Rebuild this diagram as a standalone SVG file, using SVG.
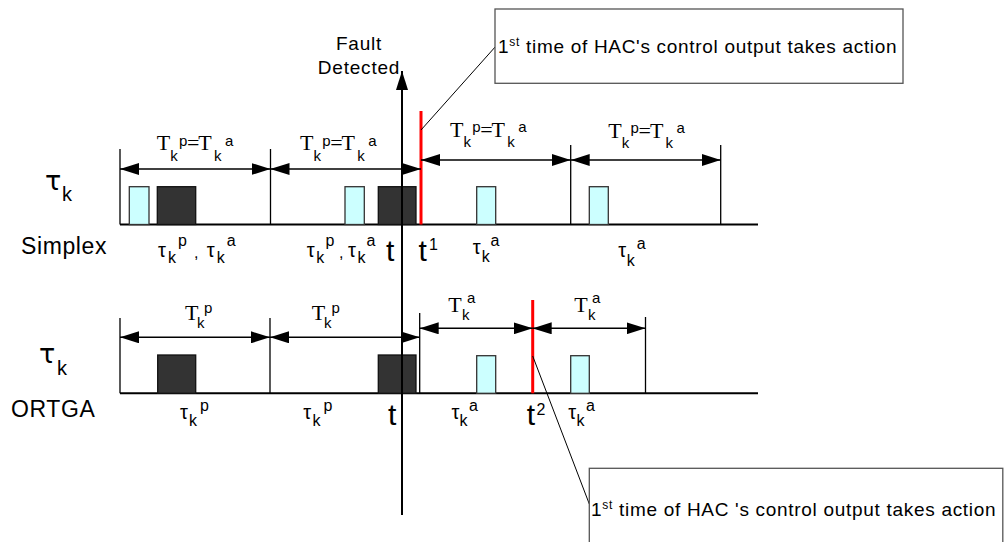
<svg xmlns="http://www.w3.org/2000/svg" width="1005" height="542" viewBox="0 0 1005 542">
<defs>
<style>
.bg{fill:#fff}
.base{stroke:#000;stroke-width:2;fill:none}
.tick{stroke:#000;stroke-width:1.3;fill:none}
.red{stroke:#ff0000;stroke-width:3;fill:none}
.arr{stroke:#000;stroke-width:1.5;fill:none;marker-start:url(#ah);marker-end:url(#ah)}
.axis{stroke:#000;stroke-width:2;fill:none;marker-end:url(#ah)}
.lead{stroke:#000;stroke-width:1;fill:none}
.cy{fill:#ccffff;stroke:#333;stroke-width:1.3}
.dk{fill:#333;stroke:#111;stroke-width:1.3}
.box{fill:#fff;stroke:#555;stroke-width:1.3}
.big{font-family:"Liberation Sans",Arial,sans-serif;font-size:23px;letter-spacing:0.6px;fill:#000}
.ft{font-family:"Liberation Sans",Arial,sans-serif;font-size:19px;letter-spacing:0.8px;fill:#000;text-anchor:middle}
.T{font-family:"Liberation Serif","Times New Roman",serif;font-size:22px;fill:#000}
.s14{font-family:"Liberation Sans",Arial,sans-serif;font-size:15px;fill:#000}
.s16{font-family:"Liberation Sans",Arial,sans-serif;font-size:16px;fill:#000}
.tau{font-family:"Liberation Sans",Arial,sans-serif;font-size:20px;fill:#000}
.btau{font-family:"DejaVu Sans",sans-serif;font-size:27px;fill:#000}
.bk{font-family:"Liberation Sans",Arial,sans-serif;font-size:20px;fill:#000}
.tt{font-family:"Liberation Sans",Arial,sans-serif;font-size:30px;fill:#000}
.co{font-family:"Liberation Sans",Arial,sans-serif;font-size:19px;letter-spacing:0.7px;fill:#000}
</style>
<marker id="ah" markerUnits="userSpaceOnUse" markerWidth="19" markerHeight="12" refX="19" refY="6" orient="auto-start-reverse" viewBox="0 0 19 12">
<path d="M0,0 L19,6 L0,12 z" fill="#000"/>
</marker>
</defs>
<rect class="bg" x="0" y="0" width="1005" height="542"/>

<g id="simplex-timeline">
<line class="base" x1="120" y1="224.5" x2="758" y2="224.5"/>
<line class="tick" x1="120" y1="149" x2="120" y2="224.5"/>
<line class="tick" x1="270.5" y1="149" x2="270.5" y2="224.5"/>
<line class="tick" x1="570.7" y1="145" x2="570.7" y2="224.5"/>
<line class="tick" x1="720.7" y1="145" x2="720.7" y2="224.5"/>
<rect class="cy" x="129.3" y="186.7" width="19.7" height="37.8"/>
<rect class="dk" x="157.3" y="186.7" width="38.4" height="37.8"/>
<rect class="cy" x="345" y="186.7" width="19.3" height="37.8"/>
<rect class="dk" x="378.3" y="186.7" width="37.7" height="37.8"/>
<rect class="cy" x="476.7" y="186.7" width="19" height="37.8"/>
<rect class="cy" x="589.3" y="186.7" width="19" height="37.8"/>
<line class="red" x1="421" y1="111" x2="421" y2="224.5"/>
</g>

<g id="ortga-timeline">
<line class="base" x1="120" y1="393.3" x2="758" y2="393.3"/>
<line class="tick" x1="120" y1="318" x2="120" y2="393.3"/>
<line class="tick" x1="270" y1="318" x2="270" y2="393.3"/>
<line class="tick" x1="419.7" y1="313" x2="419.7" y2="393.3"/>
<line class="tick" x1="645.5" y1="317" x2="645.5" y2="393.3"/>
<rect class="dk" x="157.7" y="355" width="38" height="38.3"/>
<rect class="dk" x="378.3" y="355" width="37.7" height="38.3"/>
<rect class="cy" x="476.7" y="355.7" width="19" height="37.6"/>
<rect class="cy" x="570.7" y="355.7" width="18.6" height="37.6"/>
<line class="red" x1="532.7" y1="300" x2="532.7" y2="393.3"/>
</g>

<g id="connectors">
<line class="axis" x1="402" y1="515" x2="402" y2="71"/>
<line class="arr" x1="120" y1="169" x2="270.5" y2="169"/>
<line class="arr" x1="270.5" y1="169" x2="421" y2="169"/>
<line class="arr" x1="421" y1="160" x2="570.7" y2="160"/>
<line class="arr" x1="570.7" y1="160" x2="720.7" y2="160"/>
<line class="arr" x1="120" y1="337.3" x2="270" y2="337.3"/>
<line class="arr" x1="270" y1="337.3" x2="419.7" y2="337.3"/>
<line class="arr" x1="419.7" y1="328.3" x2="532.7" y2="328.3"/>
<line class="arr" x1="532.7" y1="328.3" x2="645.5" y2="328.3"/>
<line class="lead" x1="421" y1="130" x2="496" y2="46"/>
<line class="lead" x1="532.7" y1="356" x2="589.3" y2="504"/>
</g>

<g id="fault-label">
<text class="ft" x="359" y="50">Fault</text>
<text class="ft" x="359" y="74">Detected</text>
</g>

<g id="row-labels">
<text class="btau" x="45" y="190">τ</text>
<text class="bk" x="62" y="201">k</text>
<text class="big" x="21" y="254">Simplex</text>
<text class="btau" x="39" y="363">τ</text>
<text class="bk" x="57" y="375">k</text>
<text class="big" x="11" y="417">ORTGA</text>
</g>

<g id="period-labels">
<g>
<text class="T" x="156.7" y="150">T</text><text class="s14" x="170.2" y="161">k</text><text class="s14" x="179" y="146">p</text><text class="T" x="187" y="150">=</text><text class="T" x="198.3" y="150">T</text><text class="s14" x="214" y="161">k</text><text class="s14" x="225" y="146">a</text>
</g>
<g>
<text class="T" x="300" y="150">T</text><text class="s14" x="313.5" y="161">k</text><text class="s14" x="322.3" y="146">p</text><text class="T" x="330.3" y="150">=</text><text class="T" x="341.6" y="150">T</text><text class="s14" x="357.3" y="161">k</text><text class="s14" x="368.3" y="146">a</text>
</g>
<g>
<text class="T" x="450" y="137">T</text><text class="s14" x="463.5" y="147">k</text><text class="s14" x="472.3" y="132">p</text><text class="T" x="480.3" y="137">=</text><text class="T" x="491.6" y="137">T</text><text class="s14" x="507.3" y="147">k</text><text class="s14" x="518.3" y="132">a</text>
</g>
<g>
<text class="T" x="608.3" y="138">T</text><text class="s14" x="621.8" y="148">k</text><text class="s14" x="630.6" y="133">p</text><text class="T" x="638.6" y="138">=</text><text class="T" x="649.9" y="138">T</text><text class="s14" x="665.6" y="148">k</text><text class="s14" x="676.6" y="133">a</text>
</g>
<g>
<text class="T" x="185" y="320">T</text><text class="s14" x="197" y="328">k</text><text class="s14" x="204" y="313">p</text>
</g>
<g>
<text class="T" x="311.7" y="320">T</text><text class="s14" x="324" y="328">k</text><text class="s14" x="331.5" y="313">p</text>
</g>
<g>
<text class="T" x="448.3" y="312">T</text><text class="s14" x="462" y="320">k</text><text class="s14" x="467" y="303">a</text>
</g>
<g>
<text class="T" x="574.3" y="312">T</text><text class="s14" x="588" y="320">k</text><text class="s14" x="592" y="303">a</text>
</g>
</g>

<g id="task-labels">
<g>
<text class="tau" x="158" y="257">τ</text><text class="s16" x="168" y="263">k</text><text class="s16" x="178" y="246">p</text><text class="s16" x="194" y="258">,</text><text class="tau" x="206.7" y="257">τ</text><text class="s16" x="216.7" y="263">k</text><text class="s16" x="226.7" y="246">a</text>
</g>
<g>
<text class="tau" x="306.7" y="257">τ</text><text class="s16" x="316.2" y="263">k</text><text class="s16" x="325.5" y="246">p</text><text class="s16" x="339" y="258">,</text><text class="tau" x="348" y="257">τ</text><text class="s16" x="357.5" y="263">k</text><text class="s16" x="366.5" y="246">a</text>
</g>
<text class="tt" x="386" y="261">t</text>
<text class="tt" x="418.5" y="261">t</text><text class="s16" x="429" y="250">1</text>
<g>
<text class="tau" x="472.7" y="254">τ</text><text class="s16" x="481.7" y="262">k</text><text class="s16" x="490.5" y="246">a</text>
</g>
<g>
<text class="tau" x="618.3" y="257">τ</text><text class="s16" x="626.7" y="266">k</text><text class="s16" x="636.7" y="249">a</text>
</g>
<g>
<text class="tau" x="180" y="419">τ</text><text class="s16" x="189" y="426">k</text><text class="s16" x="200" y="411">p</text>
</g>
<g>
<text class="tau" x="303.3" y="419">τ</text><text class="s16" x="312.5" y="426">k</text><text class="s16" x="323.5" y="411">p</text>
</g>
<text class="tt" x="388" y="425">t</text>
<g>
<text class="tau" x="451.5" y="419">τ</text><text class="s16" x="459.5" y="426">k</text><text class="s16" x="469" y="411">a</text>
</g>
<text class="tt" x="526.7" y="425">t</text><text class="s16" x="536.5" y="415">2</text>
<g>
<text class="tau" x="568.3" y="419">τ</text><text class="s16" x="576.5" y="426">k</text><text class="s16" x="586" y="411">a</text>
</g>
</g>

<g id="callout-top">
<rect class="box" x="495" y="9" width="408" height="74.3"/>
<text class="co" x="498" y="53">1<tspan font-size="12" dy="-7">st</tspan><tspan dy="7"> time of HAC's control output takes action</tspan></text>
</g>

<g id="callout-bottom">
<rect class="box" x="589.3" y="468.3" width="413.5" height="100"/>
<text class="co" x="591" y="516">1<tspan font-size="12" dy="-7">st</tspan><tspan dy="7"> time of HAC 's control output takes action</tspan></text>
</g>
</svg>
